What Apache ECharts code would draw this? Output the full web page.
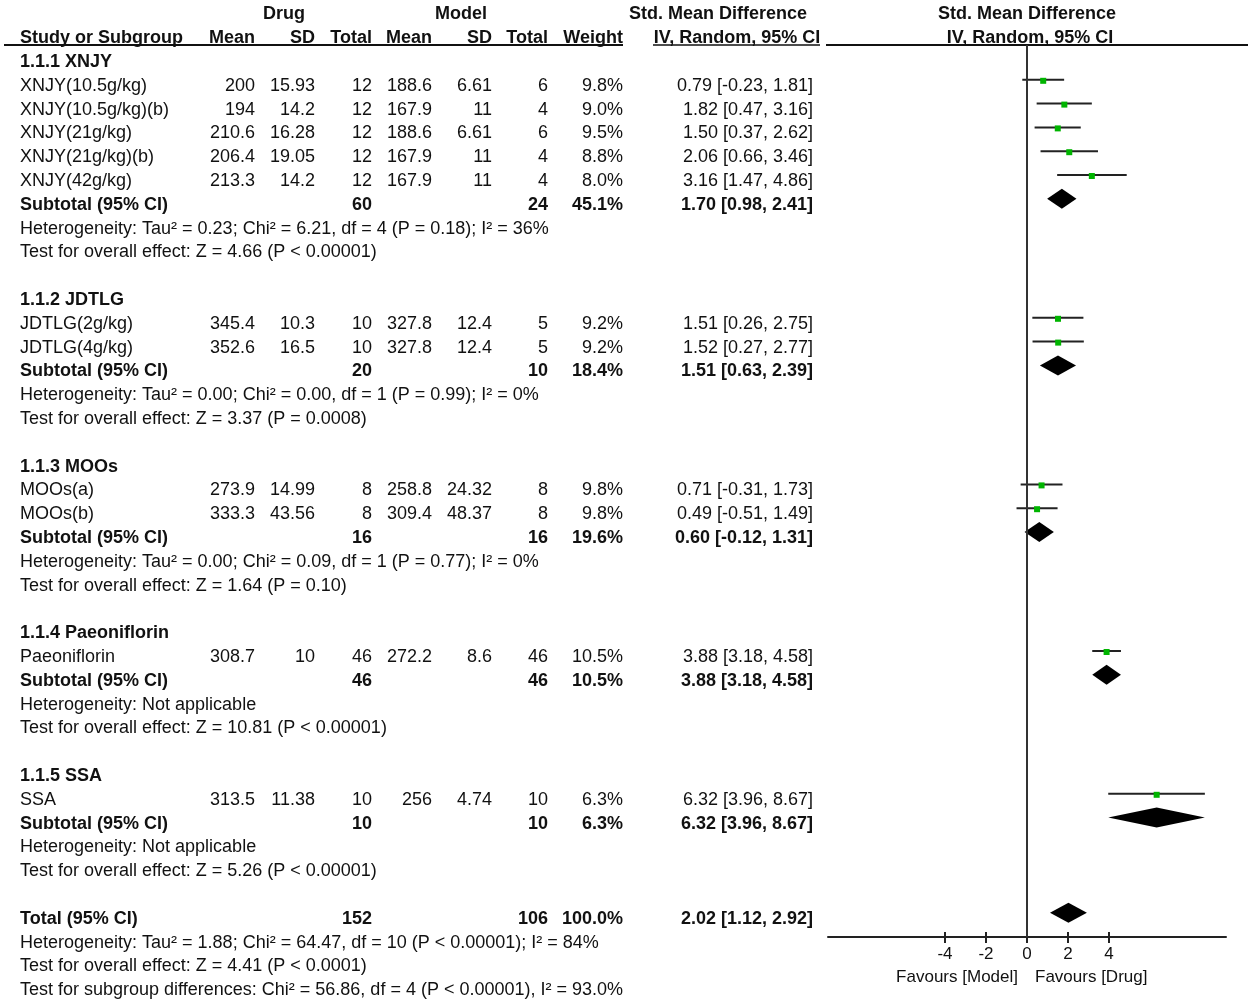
<!DOCTYPE html>
<html>
<head>
<meta charset="utf-8">
<script src="https://cdn.jsdelivr.net/npm/echarts@6/dist/echarts.min.js"></script>
<style>
html, body { margin: 0; padding: 0; background: #fff; }
#chart { width: 1248px; height: 1001px; }
</style>
</head>
<body>
<div id="chart"></div>
<script>
/*global echarts*/
// study level data
const studyNames = ['XNJY(10.5g/kg)', 'XNJY(10.5g/kg)(b)', 'XNJY(21g/kg)', 'XNJY(21g/kg)(b)', 'XNJY(42g/kg)',
    'JDTLG(2g/kg)', 'JDTLG(4g/kg)', 'MOOs(a)', 'MOOs(b)', 'Paeoniflorin', 'SSA'];
const studyGroup = [0, 0, 0, 0, 0, 1, 1, 2, 2, 3, 4];
const drugMean = [200, 194, 210.6, 206.4, 213.3, 345.4, 352.6, 273.9, 333.3, 308.7, 313.5];
const drugSD = [15.93, 14.2, 16.28, 19.05, 14.2, 10.3, 16.5, 14.99, 43.56, 10, 11.38];
const drugTotal = [12, 12, 12, 12, 12, 10, 10, 8, 8, 46, 10];
const modelMean = [188.6, 167.9, 188.6, 167.9, 167.9, 327.8, 327.8, 258.8, 309.4, 272.2, 256];
const modelSD = [6.61, 11, 6.61, 11, 11, 12.4, 12.4, 24.32, 48.37, 8.6, 4.74];
const modelTotal = [6, 4, 6, 4, 4, 5, 5, 8, 8, 46, 10];
const studyWeight = [9.8, 9.0, 9.5, 8.8, 8.0, 9.2, 9.2, 9.8, 9.8, 10.5, 6.3];
const studySmd = [0.79, 1.82, 1.50, 2.06, 3.16, 1.51, 1.52, 0.71, 0.49, 3.88, 6.32];
const studyLow = [-0.23, 0.47, 0.37, 0.66, 1.47, 0.26, 0.27, -0.31, -0.51, 3.18, 3.96];
const studyHigh = [1.81, 3.16, 2.62, 3.46, 4.86, 2.75, 2.77, 1.73, 1.49, 4.58, 8.67];

// subgroup data
const groupNames = ['1.1.1 XNJY', '1.1.2 JDTLG', '1.1.3 MOOs', '1.1.4 Paeoniflorin', '1.1.5 SSA'];
const groupDrugTotal = [60, 20, 16, 46, 10];
const groupModelTotal = [24, 10, 16, 46, 10];
const groupWeight = [45.1, 18.4, 19.6, 10.5, 6.3];
const groupSmd = [1.70, 1.51, 0.60, 3.88, 6.32];
const groupLow = [0.98, 0.63, -0.12, 3.18, 3.96];
const groupHigh = [2.41, 2.39, 1.31, 4.58, 8.67];
const groupHet = [
    'Heterogeneity: Tau² = 0.23; Chi² = 6.21, df = 4 (P = 0.18); I² = 36%',
    'Heterogeneity: Tau² = 0.00; Chi² = 0.00, df = 1 (P = 0.99); I² = 0%',
    'Heterogeneity: Tau² = 0.00; Chi² = 0.09, df = 1 (P = 0.77); I² = 0%',
    'Heterogeneity: Not applicable',
    'Heterogeneity: Not applicable'
];
const groupTest = [
    'Test for overall effect: Z = 4.66 (P < 0.00001)',
    'Test for overall effect: Z = 3.37 (P = 0.0008)',
    'Test for overall effect: Z = 1.64 (P = 0.10)',
    'Test for overall effect: Z = 10.81 (P < 0.00001)',
    'Test for overall effect: Z = 5.26 (P < 0.00001)'
];

// overall
const totalDrug = 152;
const totalModel = 106;
const totalWeight = 100.0;
const totalSmd = [2.02, 1.12, 2.92];
const totalNotes = [
    'Heterogeneity: Tau² = 1.88; Chi² = 64.47, df = 10 (P < 0.00001); I² = 84%',
    'Test for overall effect: Z = 4.41 (P < 0.0001)',
    'Test for subgroup differences: Chi² = 56.86, df = 4 (P < 0.00001), I² = 93.0%'
];

const tickValues = [-4, -2, 0, 2, 4];
const axisMin = -9.7;
const axisMax = 9.7;

// column anchors (pixels) for the table text
const COL = {
    name: 20, dMean: 255, dSD: 315, dTot: 372, mMean: 432, mSD: 492, mTot: 548, weight: 623, ci: 813
};
const FONT = 'Arial, "Liberation Sans", sans-serif';
const FS = 18;
const ROW_TOP = 62;      // y of row 0 text
const ROW_H = 23.8;      // row step
const MARK_SHIFT = 6;    // forest marks sit a little above the text line

const fmtCI = (m, lo, hi) => `${m.toFixed(2)} [${lo.toFixed(2)}, ${hi.toFixed(2)}]`;

// build the table cells and forest marks from the arrays
const cells = [];
const studyMarks = [];
const diamondMarks = [];
const addCell = (x, row, text, align, bold, size) =>
    cells.push({ x, row, text: String(text), align, bold: !!bold, size: size || FS });

addCell(284, -2, 'Drug', 'center', true);
addCell(461, -2, 'Model', 'center', true);
addCell(718, -2, 'Std. Mean Difference', 'center', true);
addCell(1027, -2, 'Std. Mean Difference', 'center', true);
addCell(COL.name, -1, 'Study or Subgroup', 'left', true);
addCell(COL.dMean, -1, 'Mean', 'right', true);
addCell(COL.dSD, -1, 'SD', 'right', true);
addCell(COL.dTot, -1, 'Total', 'right', true);
addCell(COL.mMean, -1, 'Mean', 'right', true);
addCell(COL.mSD, -1, 'SD', 'right', true);
addCell(COL.mTot, -1, 'Total', 'right', true);
addCell(COL.weight, -1, 'Weight', 'right', true);
addCell(737, -1, 'IV, Random, 95% CI', 'center', true);
addCell(1030, -1, 'IV, Random, 95% CI', 'center', true);

let row = 0;
groupNames.forEach((g, gi) => {
    addCell(COL.name, row, g, 'left', true);
    row += 1;
    studyNames.forEach((s, si) => {
        if (studyGroup[si] !== gi) return;
        addCell(COL.name, row, s, 'left');
        addCell(COL.dMean, row, drugMean[si], 'right');
        addCell(COL.dSD, row, drugSD[si], 'right');
        addCell(COL.dTot, row, drugTotal[si], 'right');
        addCell(COL.mMean, row, modelMean[si], 'right');
        addCell(COL.mSD, row, modelSD[si], 'right');
        addCell(COL.mTot, row, modelTotal[si], 'right');
        addCell(COL.weight, row, studyWeight[si].toFixed(1) + '%', 'right');
        addCell(COL.ci, row, fmtCI(studySmd[si], studyLow[si], studyHigh[si]), 'right');
        studyMarks.push([studySmd[si], studyLow[si], studyHigh[si], row]);
        row += 1;
    });
    addCell(COL.name, row, 'Subtotal (95% CI)', 'left', true);
    addCell(COL.dTot, row, groupDrugTotal[gi], 'right', true);
    addCell(COL.mTot, row, groupModelTotal[gi], 'right', true);
    addCell(COL.weight, row, groupWeight[gi].toFixed(1) + '%', 'right', true);
    addCell(COL.ci, row, fmtCI(groupSmd[gi], groupLow[gi], groupHigh[gi]), 'right', true);
    diamondMarks.push([groupSmd[gi], groupLow[gi], groupHigh[gi], row]);
    row += 1;
    addCell(COL.name, row, groupHet[gi], 'left');
    row += 1;
    addCell(COL.name, row, groupTest[gi], 'left');
    row += 2;
});
addCell(COL.name, row, 'Total (95% CI)', 'left', true);
addCell(COL.dTot, row, totalDrug, 'right', true);
addCell(COL.mTot, row, totalModel, 'right', true);
addCell(COL.weight, row, totalWeight.toFixed(1) + '%', 'right', true);
addCell(COL.ci, row, fmtCI(totalSmd[0], totalSmd[1], totalSmd[2]), 'right', true);
diamondMarks.push([totalSmd[0], totalSmd[1], totalSmd[2], row]);
const totalRow = row;
totalNotes.forEach((t, i) => addCell(COL.name, totalRow + 1 + i, t, 'left'));
addCell(1018, 38.45, 'Favours [Model]', 'right', false, 17);
addCell(1035, 38.45, 'Favours [Drug]', 'left', false, 17);

// geometry of the two grids
const CH = 1001;
const forestTop = 45;
const forestBottom = 937;
const forestH = forestBottom - forestTop;
const rowOf = (y) => (y - ROW_TOP) / ROW_H;
const markRowOf = (y) => (y - ROW_TOP + MARK_SHIFT) / ROW_H;

const chart = echarts.init(document.getElementById('chart'), null, { renderer: 'canvas' });

const renderCell = (params, api) => {
    const c = cells[params.dataIndex];
    const p = api.coord([api.value(0), api.value(1)]);
    return {
        type: 'text',
        x: p[0],
        y: p[1],
        style: {
            text: c.text,
            align: c.align,
            verticalAlign: 'middle',
            fontSize: c.size,
            fontFamily: FONT,
            fontWeight: c.bold ? 'bold' : 'normal',
            fill: '#111'
        }
    };
};

const renderStudy = (params, api) => {
    const r = api.value(3);
    const lo = api.coord([api.value(1), r]);
    const hi = api.coord([api.value(2), r]);
    const mid = api.coord([api.value(0), r]);
    return {
        type: 'group',
        children: [
            { type: 'line', shape: { x1: lo[0], y1: lo[1], x2: hi[0], y2: hi[1] }, style: { stroke: '#222', lineWidth: 2 } },
            { type: 'rect', shape: { x: mid[0] - 3, y: mid[1] - 2, width: 6, height: 6 }, style: { fill: '#00b400' } }
        ]
    };
};

const renderDiamond = (params, api) => {
    const r = api.value(3);
    const lo = api.coord([api.value(1), r]);
    const hi = api.coord([api.value(2), r]);
    const mid = api.coord([api.value(0), r]);
    return {
        type: 'polygon',
        shape: { points: [[lo[0], lo[1]], [mid[0], mid[1] - 10], [hi[0], hi[1]], [mid[0], mid[1] + 10]] },
        style: { fill: '#000' }
    };
};

const option = {
    backgroundColor: '#fff',
    animation: false,
    grid: [
        { left: 0, top: 0, width: 1248, height: CH },
        { left: 828, top: forestTop, width: 398, height: forestH }
    ],
    xAxis: [
        { gridIndex: 0, type: 'value', min: 0, max: 1248, show: false },
        {
            gridIndex: 1,
            type: 'value',
            min: axisMin,
            max: axisMax,
            position: 'bottom',
            splitLine: { show: false },
            axisLine: { show: true, onZero: false, lineStyle: { color: '#222', width: 2 } },
            axisTick: { show: true, length: 6, customValues: tickValues, lineStyle: { color: '#222', width: 2 } },
            axisLabel: { show: true, customValues: tickValues, fontSize: 17, fontFamily: FONT, color: '#111', margin: 9 }
        },
        {
            // upper half of the crossing ticks: a top axis moved down onto the bottom line
            gridIndex: 1,
            type: 'value',
            min: axisMin,
            max: axisMax,
            position: 'top',
            offset: -forestH,
            splitLine: { show: false },
            axisLine: { show: false },
            axisTick: { show: true, length: 5, customValues: tickValues, lineStyle: { color: '#222', width: 2 } },
            axisLabel: { show: false }
        }
    ],
    yAxis: [
        { gridIndex: 0, type: 'value', inverse: true, min: rowOf(0), max: rowOf(CH), show: false },
        { gridIndex: 1, type: 'value', inverse: true, min: markRowOf(forestTop), max: markRowOf(forestBottom), show: false }
    ],
    graphic: [
        { type: 'line', shape: { x1: 4, y1: 45, x2: 623, y2: 45 }, style: { stroke: '#111', lineWidth: 2 } },
        { type: 'line', shape: { x1: 653, y1: 45, x2: 820, y2: 45 }, style: { stroke: '#111', lineWidth: 1.5 } },
        { type: 'line', shape: { x1: 826, y1: 45, x2: 1248, y2: 45 }, style: { stroke: '#111', lineWidth: 2 } }
    ],
    series: [
        {
            type: 'custom',
            name: 'table',
            xAxisIndex: 0,
            yAxisIndex: 0,
            silent: true,
            renderItem: renderCell,
            encode: { x: 0, y: 1 },
            data: cells.map(c => [c.x, c.row])
        },
        {
            type: 'line',
            name: 'no effect',
            xAxisIndex: 1,
            yAxisIndex: 1,
            silent: true,
            symbol: 'none',
            lineStyle: { color: '#333', width: 2 },
            data: [[0, markRowOf(forestTop)], [0, markRowOf(forestBottom)]]
        },
        {
            type: 'custom',
            name: 'studies',
            xAxisIndex: 1,
            yAxisIndex: 1,
            silent: true,
            clip: false,
            renderItem: renderStudy,
            encode: { x: [0, 1, 2], y: 3 },
            data: studyMarks
        },
        {
            type: 'custom',
            name: 'pooled',
            xAxisIndex: 1,
            yAxisIndex: 1,
            silent: true,
            clip: false,
            renderItem: renderDiamond,
            encode: { x: [0, 1, 2], y: 3 },
            data: diamondMarks
        }
    ]
};

chart.setOption(option);
</script>
</body>
</html>
